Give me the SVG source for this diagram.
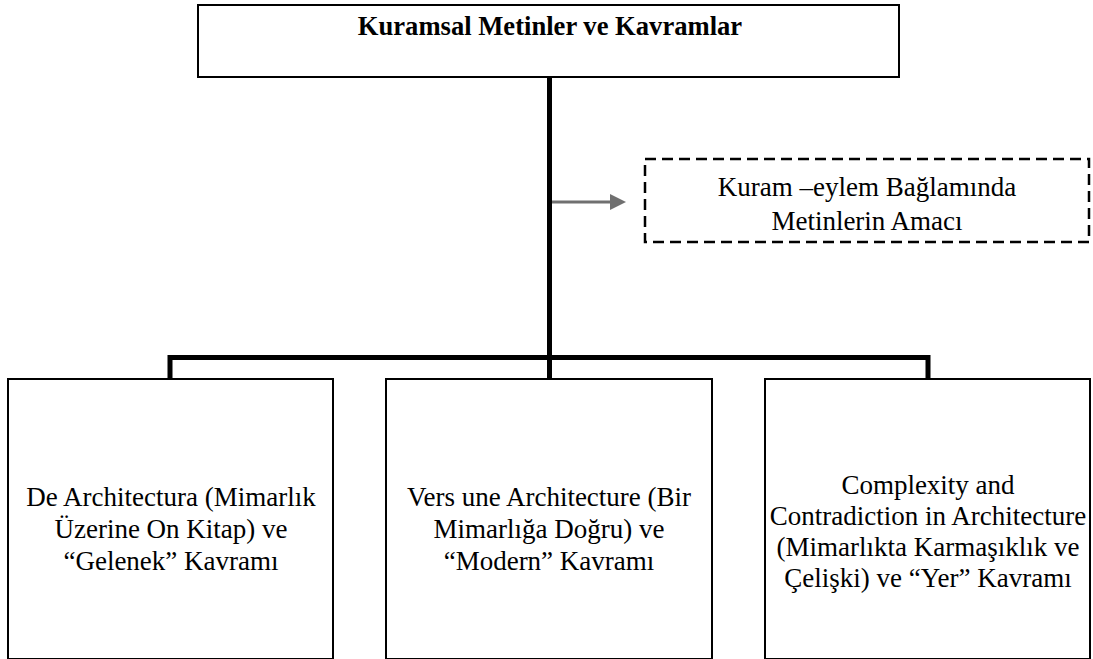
<svg xmlns="http://www.w3.org/2000/svg" width="1093" height="659" viewBox="0 0 1093 659">
<style>
.box{fill:#fff;stroke:#000;stroke-width:2}
.dash{fill:none;stroke:#000;stroke-width:2.5;stroke-dasharray:11 6}
.t{font-family:"Liberation Serif","Times New Roman",serif;font-size:27px;fill:#000;text-anchor:middle}
.b{font-weight:bold;font-size:26.6px}
.c{fill:none;stroke:#000;stroke-width:5}
</style>
<rect width="1093" height="659" fill="#fff"/>
<g id="connectors">
<path class="c" d="M549.5 77 V379 M170 379 V357.5 H928 V379"/>
<line x1="552" y1="202" x2="612" y2="202" stroke="#707070" stroke-width="3"/>
<polygon points="610,194 626,202 610,210" fill="#707070"/>
</g>
<g id="title">
<rect class="box" x="198" y="5" width="701" height="72"/>
<text class="t b" x="550" y="35">Kuramsal Metinler ve Kavramlar</text>
</g>
<g id="purpose">
<rect class="dash" x="645" y="159" width="444" height="83"/>
<text class="t" x="867" y="196">Kuram –eylem Bağlamında</text>
<text class="t" x="867" y="230">Metinlerin Amacı</text>
</g>
<g id="node1">
<rect class="box" x="8" y="379" width="325" height="280"/>
<text class="t" x="171" y="506">De Architectura (Mimarlık</text>
<text class="t" x="171" y="538">Üzerine On Kitap) ve</text>
<text class="t" x="171" y="570">“Gelenek” Kavramı</text>
</g>
<g id="node2">
<rect class="box" x="386" y="379" width="326" height="280"/>
<text class="t" x="549" y="506">Vers une Architecture (Bir</text>
<text class="t" x="549" y="538">Mimarlığa Doğru) ve</text>
<text class="t" x="549" y="570">“Modern” Kavramı</text>
</g>
<g id="node3">
<rect class="box" x="765" y="379" width="325" height="280"/>
<text class="t" x="928" y="494">Complexity and</text>
<text class="t" x="928" y="525">Contradiction in Architecture</text>
<text class="t" x="928" y="556">(Mimarlıkta Karmaşıklık ve</text>
<text class="t" x="928" y="587">Çelişki) ve “Yer” Kavramı</text>
</g>
</svg>
